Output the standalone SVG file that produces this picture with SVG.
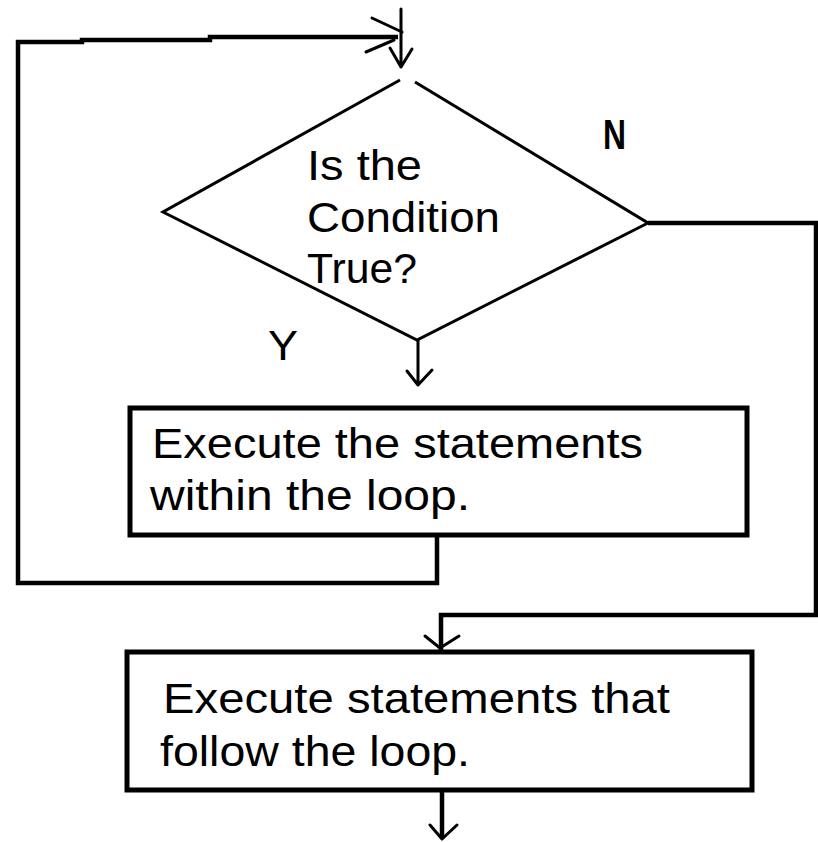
<svg xmlns="http://www.w3.org/2000/svg" width="818" height="842" viewBox="0 0 818 842">
<style>
.bg{fill:#fff}
.box{fill:#fff;stroke:#000;stroke-width:5}
.dia{fill:none;stroke:#000;stroke-width:3;stroke-linejoin:miter}
.ln{fill:none;stroke:#000;stroke-width:4.5;stroke-linejoin:miter}
.ar{fill:none;stroke:#000;stroke-width:3;stroke-linecap:round;stroke-linejoin:round}
text{font-family:"Liberation Sans",Arial,sans-serif;font-size:42px;fill:#000}
.b{font-weight:bold}
</style>
<rect class="bg" x="0" y="0" width="818" height="842"/>
<g id="connectors">
  <path class="ln" d="M437,535 V583 H18 V42 H82 V40 H210 V37 H398"/>
  <path class="ar" d="M372,18 L402,32 M366,52 L394,40"/>
  <path class="ar" d="M401,9 V67 M390,48 L401,67 L412,49"/>
  <path class="ar" d="M418,340 V385 M407,371 L418,385 L432,370"/>
  <path class="ln" d="M648,223 H816 V615 H441 V650"/>
  <path class="ar" d="M425,636 L440,648 L459,636"/>
  <path class="ln" d="M442,790 V838"/>
  <path class="ar" d="M430,825 L442,839 L457,825"/>
</g>
<g id="decision">
  <path class="dia" d="M400,80 L163,212 L417,340 L648,223 L415,82"/>
  <text x="307" y="180" textLength="115" lengthAdjust="spacingAndGlyphs">Is the</text>
  <text x="307" y="232" textLength="193" lengthAdjust="spacingAndGlyphs">Condition</text>
  <text x="307" y="283" textLength="110" lengthAdjust="spacingAndGlyphs">True?</text>
</g>
<g id="label-n"><text class="b" x="603" y="149" textLength="23" lengthAdjust="spacingAndGlyphs">N</text></g>
<g id="label-y"><text x="268" y="360" textLength="30" lengthAdjust="spacingAndGlyphs">Y</text></g>
<g id="loop-body">
  <rect class="box" x="130" y="408" width="617" height="127"/>
  <text x="152" y="458" textLength="491" lengthAdjust="spacingAndGlyphs">Execute the statements</text>
  <text x="150" y="510" textLength="320" lengthAdjust="spacingAndGlyphs">within the loop.</text>
</g>
<g id="after-loop">
  <rect class="box" x="127" y="652" width="625" height="138"/>
  <text x="163" y="713" textLength="507" lengthAdjust="spacingAndGlyphs">Execute statements that</text>
  <text x="160" y="766" textLength="310" lengthAdjust="spacingAndGlyphs">follow the loop.</text>
</g>
</svg>
